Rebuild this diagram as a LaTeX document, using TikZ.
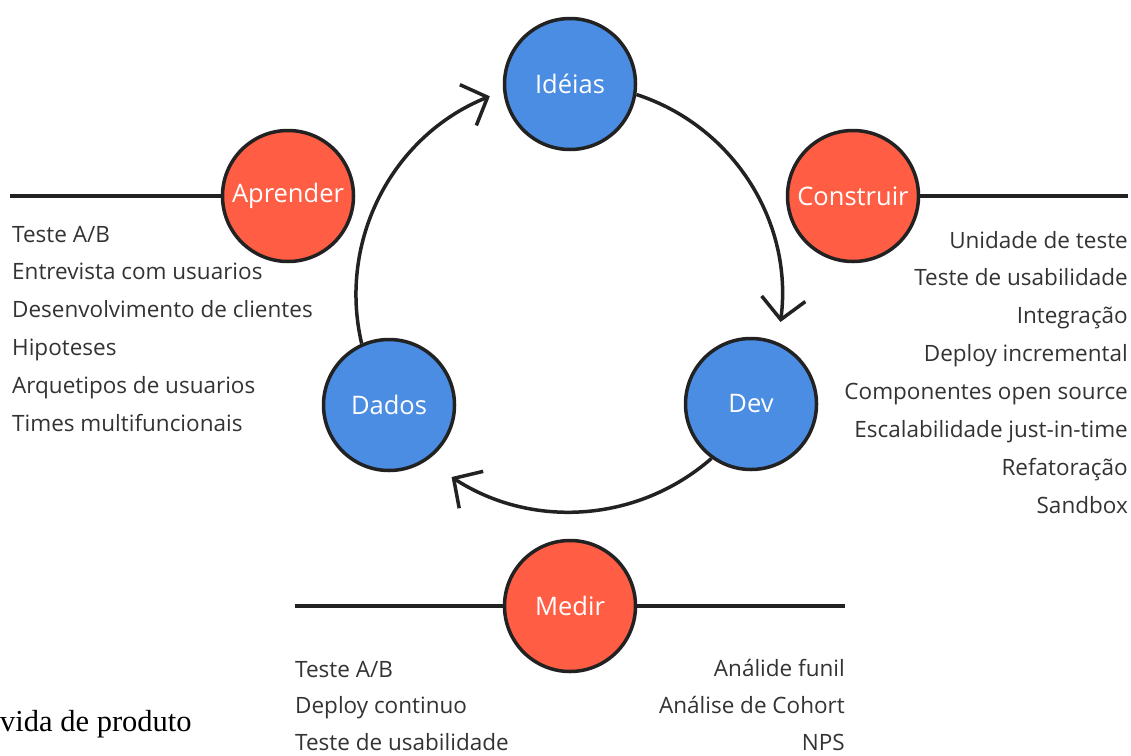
\documentclass[tikz,border=0pt]{standalone}
\usepackage{fontspec}
\setmainfont{Open Sans}
\newfontfamily\serifa{Liberation Serif}
\usetikzlibrary{arrows.meta}
\definecolor{bluefill}{HTML}{4A8DE2}
\definecolor{redfill}{HTML}{FF5E45}
\definecolor{edge}{HTML}{222222}
\definecolor{textgray}{HTML}{333333}
\begin{document}
\begin{tikzpicture}[x=1pt,y=-1pt,
  bignode/.style={circle, draw=edge, line width=3.5pt, minimum size=131pt, inner sep=0pt,
    font=\fontsize{25.5}{30}\selectfont, text=white},
  bluenode/.style={bignode, fill=bluefill},
  rednode/.style={bignode, fill=redfill},
  item/.style={font=\fontsize{22.5}{27}\selectfont, text=textgray, inner sep=0pt},
  conn/.style={line width=3.5pt, draw=edge},
  cyc/.style={conn, -{Straight Barb[length=21pt,width=44pt]}}]
\useasboundingbox (0,0) rectangle (1131,755);

% lines behind red nodes
\coordinate (al) at (10,196);
\coordinate (cr) at (1128,196);
\coordinate (ml) at (295,606);
\coordinate (mr) at (845,606);
\draw[conn] (al) -- (288,196);
\draw[conn] (853,196) -- (cr);
\draw[conn] (ml) -- (mr);

\node[bluenode] (ideias) at (570,84) {Idéias};
\node[bluenode] (dev) at (751,404) {Dev};
\node[bluenode] (dados) at (389,405) {Dados};
\node[rednode] (aprender) at (288,196) {Aprender};
\node[rednode] (construir) at (853,196) {Construir};
\node[rednode] (medir) at (570,606) {Medir};

% cycle arcs
\draw[cyc] (ideias.-9.6) arc[start angle=-72, end angle=7.3, radius=211];
\draw[cyc] (dev.234) arc[start angle=48.8, end angle=123, radius=216];
\draw[cyc] (dados.114) arc[start angle=166.8, end angle=248, radius=214];

% lists
\foreach \t [count=\i] in {Teste A/B, Entrevista com usuarios, Desenvolvimento de clientes, Hipoteses, Arquetipos de usuarios, Times multifuncionais}
  \node[item, anchor=base west] (la\i) at (12,{242+37.8*(\i-1)}) {\t};
\foreach \t [count=\i] in {Unidade de teste, Teste de usabilidade, Integração, Deploy incremental, Componentes open source, Escalabilidade just-in-time, Refatoração, Sandbox}
  \node[item, anchor=base east] (lc\i) at (1128,{248+37.9*(\i-1)}) {\t};
\foreach \t [count=\i] in {Teste A/B, Deploy continuo, Teste de usabilidade}
  \node[item, anchor=base west] (lm\i) at (295,{677+36.5*(\i-1)}) {\t};
\foreach \t [count=\i] in {Análide funil, Análise de Cohort, NPS}
  \node[item, anchor=base east] (ln\i) at (845,{676+37*(\i-1)}) {\t};

\node[anchor=base west, inner sep=0pt, font=\serifa\fontsize{30.5}{34}\selectfont, text=black] (caption) at (0,731) {vida de produto};
\end{tikzpicture}
\end{document}
